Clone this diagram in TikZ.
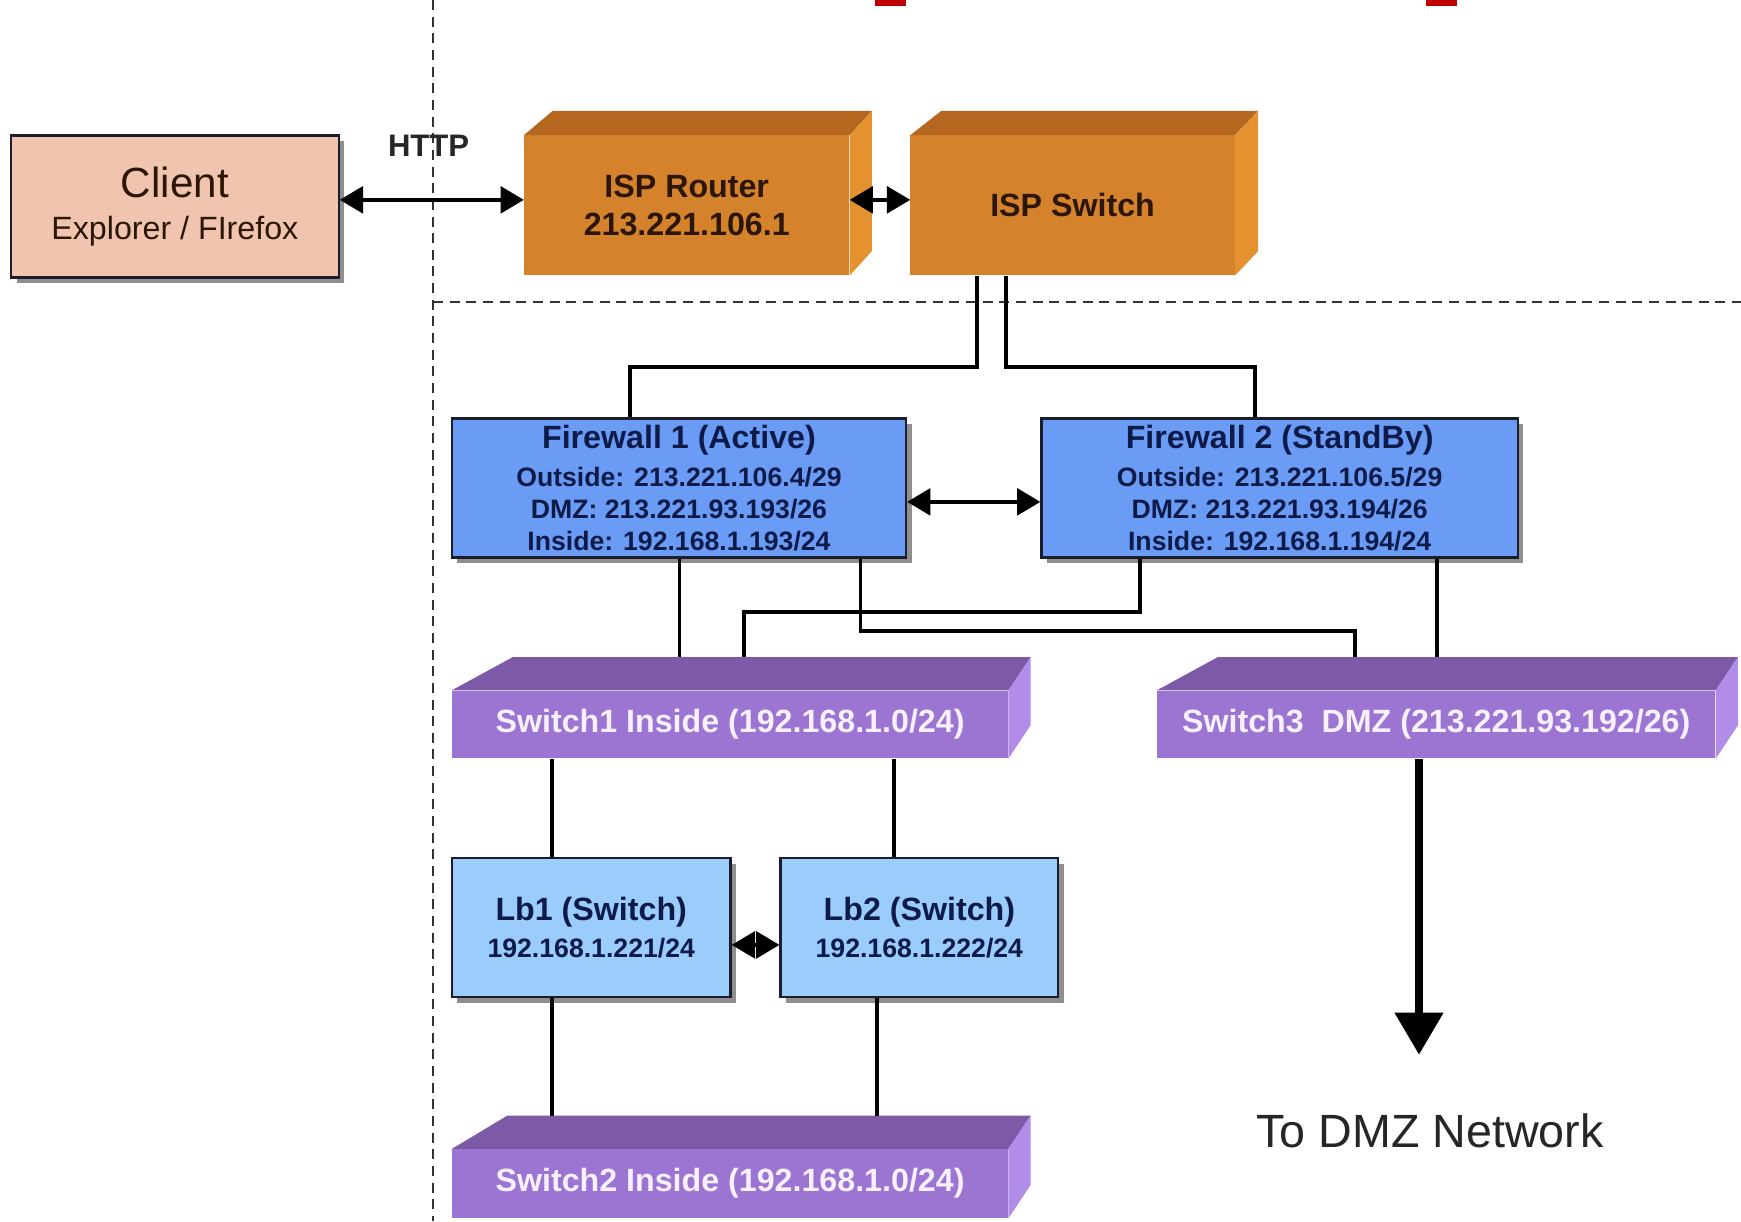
\documentclass[tikz,border=0pt]{standalone}
\usepackage{fontspec}
\setmainfont{Liberation Sans}
\usetikzlibrary{arrows.meta,shadows,calc}

\definecolor{clientfill}{HTML}{F0C4AE}
\definecolor{orfront}{HTML}{D4822C}
\definecolor{ortop}{HTML}{B5661F}
\definecolor{orright}{HTML}{E3922F}
\definecolor{pufront}{HTML}{9C74D2}
\definecolor{putop}{HTML}{7D5AA8}
\definecolor{puright}{HTML}{B18CE8}
\definecolor{fwfill}{HTML}{6A9CF6}
\definecolor{lbfill}{HTML}{9ACDFB}
\definecolor{navytext}{HTML}{0E1B48}
\definecolor{browntext}{HTML}{2B1608}
\definecolor{edge}{HTML}{1C1C2C}
\definecolor{switchtext}{HTML}{F6F0FF}

\newcommand\isobox[6]{%
  \fill[#2] (#1.north west) -- ++(#6,-#5) -- ([shift={(#4,-#5)}]#1.north east) -- (#1.north east) -- cycle;
  \fill[#3] (#1.north east) -- ([shift={(#4,-#5)}]#1.north east) -- ([shift={(#4,-#5)}]#1.south east) -- (#1.south east) -- cycle;
}

\tikzset{
  flatbox/.style={draw=edge, line width=2pt, inner sep=0pt, align=center,
    drop shadow={shadow xshift=5pt, shadow yshift=-5pt, fill=black!55, opacity=0.8}},
  clientbox/.style={flatbox, fill=clientfill, text=browntext,
    font=\fontsize{29}{38}\selectfont},
  fwbox/.style={flatbox, fill=fwfill, text=navytext, minimum height=125pt,
    font=\bfseries\fontsize{24}{29}\selectfont},
  lbbox/.style={flatbox, fill=lbfill, text=navytext, minimum height=125pt,
    font=\bfseries\fontsize{24}{29}\selectfont},
  orangebox/.style={fill=orfront, inner sep=0pt, align=center, text=browntext,
    font=\bfseries\fontsize{29}{34}\selectfont},
  purplebox/.style={fill=pufront, inner sep=0pt, align=center, text=switchtext,
    font=\bfseries\fontsize{29}{34}\selectfont},
  sepline/.style={dash pattern=on 9pt off 6pt, line width=2pt, black!80},
  link/.style={line width=3.5pt, black},
  dbl/.style={line width=3.5pt, black, {Triangle[length=21pt,width=24pt]}-{Triangle[length=21pt,width=24pt]}},
  bigarrow/.style={line width=8pt, black, -{Triangle[length=38pt,width=42pt]}},
}

\begin{document}
\begin{tikzpicture}[x=1pt,y=-1pt]
\useasboundingbox (0,0) rectangle (1568,1100);
\fill[white] (0,0) rectangle (1568,1100);

% red marks at top edge
\fill[red!75!black] (788,0) rectangle (816,5);
\fill[red!75!black] (1284,0) rectangle (1312,5);

% separators
\draw[sepline] (390,0) -- (390,1100);
\draw[sepline] (390,272) -- (1568,272);

% client
\node[clientbox, minimum width=295pt, minimum height=128pt] (client) at (157.5,186)
  {{\fontsize{38}{38}\selectfont Client}\\ Explorer / FIrefox};
\node[font=\bfseries\fontsize{28}{28}\selectfont, text=black!85] (http) at (386,131) {HTTP};

% ISP boxes
\node[orangebox, minimum width=293pt, minimum height=126pt] (router) at (618.5,185)
  {ISP Router\\213.221.106.1};
\isobox{router}{ortop}{orright}{20}{22}{26}
\node[orangebox, minimum width=292pt, minimum height=126pt] (ispsw) at (966,185) {ISP Switch};
\isobox{ispsw}{ortop}{orright}{21}{22}{28}

% firewalls
\node[fwbox, minimum width=409pt] (fw1) at (611.5,439.5)
  {{\fontsize{29}{29}\selectfont Firewall 1 (Active)}\\[5pt]
   Outside: 213.221.106.4/29\\ DMZ: 213.221.93.193/26\\ Inside: 192.168.1.193/24};
\node[fwbox, minimum width=429pt] (fw2) at (1152.5,439.5)
  {{\fontsize{29}{29}\selectfont Firewall 2 (StandBy)}\\[5pt]
   Outside: 213.221.106.5/29\\ DMZ: 213.221.93.194/26\\ Inside: 192.168.1.194/24};

% switches
\node[purplebox, minimum width=501pt, minimum height=61pt] (sw1) at (657.5,652.5)
  {Switch1 Inside (192.168.1.0/24)};
\isobox{sw1}{putop}{puright}{20}{30}{55}
\coordinate (sw1back) at ($(sw1.north)+(0,-30)$);
\node[purplebox, minimum width=503pt, minimum height=61pt] (sw3) at (1293.5,652.5)
  {Switch3~~DMZ (213.221.93.192/26)};
\isobox{sw3}{putop}{puright}{20}{30}{55}
\coordinate (sw3back) at ($(sw3.north)+(0,-30)$);
\node[purplebox, minimum width=501pt, minimum height=62pt] (sw2) at (657.5,1066)
  {Switch2 Inside (192.168.1.0/24)};
\isobox{sw2}{putop}{puright}{20}{30}{50}
\coordinate (sw2back) at ($(sw2.north)+(0,-30)$);

% load balancers
\node[lbbox, minimum width=251pt] (lb1) at (532.5,835.5)
  {{\fontsize{29}{29}\selectfont Lb1 (Switch)}\\[4pt] 192.168.1.221/24};
\node[lbbox, minimum width=250pt] (lb2) at (828,835.5)
  {{\fontsize{29}{29}\selectfont Lb2 (Switch)}\\[4pt] 192.168.1.222/24};

% DMZ label
\node[font=\fontsize{42}{42}\selectfont, text=black!85] (dmz) at (1288,1018) {To DMZ Network};
\coordinate (dmztip) at (1278,950);

% connectors
\draw[dbl] ([yshift=6pt]client.east) -- ([yshift=5pt]router.west);
\draw[dbl] ([yshift=5pt]router.east) -- ([yshift=5pt]ispsw.west);
\draw[link] ([xshift=-86pt]ispsw.south) -- ++(0,82) -| ([xshift=-44.5pt]fw1.north);
\draw[link] ([xshift=-60pt]ispsw.south) -- ++(0,82) -| ([xshift=-22.5pt]fw2.north);
\draw[dbl] ([yshift=-12.5pt]fw1.east) -- ([yshift=-12.5pt]fw2.west);
\draw[link] ([xshift=0.5pt]fw1.south) -- ([xshift=0.5pt]fw1.south |- sw1back);
\draw[link] ([xshift=163.5pt]fw1.south) -- ++(0,65) -| ([xshift=-73.5pt]sw3back);
\draw[link] ([xshift=-125.5pt]fw2.south) -- ++(0,48) -| ([xshift=12.5pt]sw1back);
\draw[link] ([xshift=141.5pt]fw2.south) -- ([xshift=0.5pt]sw3back);
\draw[link] ([xshift=-35.5pt]lb1.north) -- ([xshift=-35.5pt]lb1.north |- sw1.south);
\draw[link] ([xshift=-23pt]lb2.north) -- ([xshift=-23pt]lb2.north |- sw1.south);
\draw[dbl] ([yshift=-15.5pt]lb1.east) -- ([yshift=-15.5pt]lb2.west);
\draw[link] ([xshift=-35.5pt]lb1.south) -- ([xshift=-35.5pt]lb1.south |- sw2back);
\draw[link] ([xshift=-38pt]lb2.south) -- ([xshift=-38pt]lb2.south |- sw2back);
\draw[bigarrow] ([xshift=-15.5pt]sw3.south) -- (dmztip);
\end{tikzpicture}
\end{document}
